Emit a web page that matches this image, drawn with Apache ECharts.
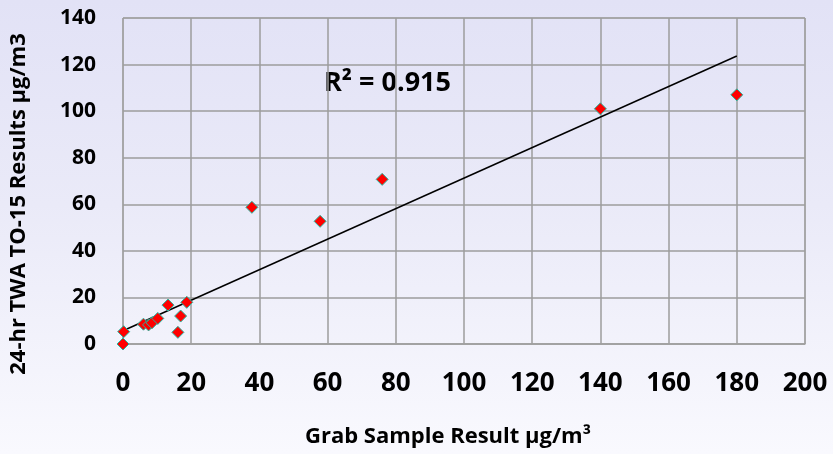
<!DOCTYPE html>
<html>
<head>
<meta charset="utf-8">
<script src="https://cdn.jsdelivr.net/npm/echarts@6/dist/echarts.min.js"></script>
<style>
html,body{margin:0;padding:0;}
#chart{width:833px;height:454px;background:linear-gradient(to bottom,#E2E2F6 0%,#EAEAF8 45%,#F9F9FE 100%);}
</style>
</head>
<body>
<div id="chart"></div>
<script>
// Data
var grabResult = [0, 0.2, 6, 7.5, 8.5, 10.2, 13.2, 16.9, 16.1, 18.7, 37.8, 57.8, 76, 140, 180];
var twaResult  = [0, 5.3, 8.5, 8.2, 9.1, 11, 16.7, 12, 5, 17.9, 58.7, 52.7, 70.7, 101, 107];
var trendX = [0, 180];
var trendY = [5.7, 123.7];
var rSquaredLabel = 'R² = 0.915';
var xTitle = 'Grab Sample Result µg/m³';
var yTitle = '24-hr TWA TO-15 Results µg/m3';

var points = grabResult.map(function (x, i) { return [x, twaResult[i]]; });
var trend = trendX.map(function (x, i) { return [x, trendY[i]]; });

var FONT = '"Open Sans", "Noto Sans", sans-serif';
var chart = echarts.init(document.getElementById('chart'), null, {renderer: 'canvas'});
chart.setOption({
  animation: false,
  backgroundColor: 'transparent',
  grid: {left: 120, right: 28, top: 18, bottom: 110, show: true, borderColor: '#A8A8A8', borderWidth: 1, backgroundColor: 'transparent'},
  xAxis: {
    type: 'value', min: 0, max: 200, interval: 20,
    axisLine: {show: true, lineStyle: {color: '#A0A0A0', width: 1.5}},
    axisTick: {show: false},
    splitLine: {show: true, lineStyle: {color: '#9C9C9C', width: 1.5}},
    axisLabel: {fontFamily: FONT, fontWeight: 'bold', fontSize: 26, color: '#000', margin: 27},
    name: xTitle, nameLocation: 'middle', nameGap: 82,
    nameTextStyle: {fontFamily: FONT, fontWeight: 'bold', fontSize: 22, color: '#000', padding: [0, 32, 0, 0]}
  },
  yAxis: {
    type: 'value', min: 0, max: 140, interval: 20,
    axisLine: {show: false},
    axisTick: {show: false},
    splitLine: {show: true, lineStyle: {color: '#9C9C9C', width: 1.5}},
    axisLabel: {fontFamily: FONT, fontWeight: 'bold', fontSize: 21, color: '#000', margin: 27},
    name: yTitle, nameLocation: 'middle', nameGap: 93, nameRotate: 90,
    nameTextStyle: {fontFamily: FONT, fontWeight: 'bold', fontSize: 22, color: '#000', padding: [0, 46, 0, 0]}
  },
  graphic: [{
    type: 'text', left: 324, top: 70,
    style: {text: rSquaredLabel, font: 'bold 27px ' + FONT, fill: '#000'}
  }],
  series: [{
    type: 'line', data: trend, symbol: 'none',
    lineStyle: {color: '#000', width: 1.5}, z: 2
  }, {
    type: 'scatter', data: points, symbol: 'diamond', symbolSize: 12,
    itemStyle: {color: '#FF0000', borderColor: '#22B8A0', borderWidth: 1, opacity: 1}, z: 3
  }]
});
</script>
</body>
</html>
